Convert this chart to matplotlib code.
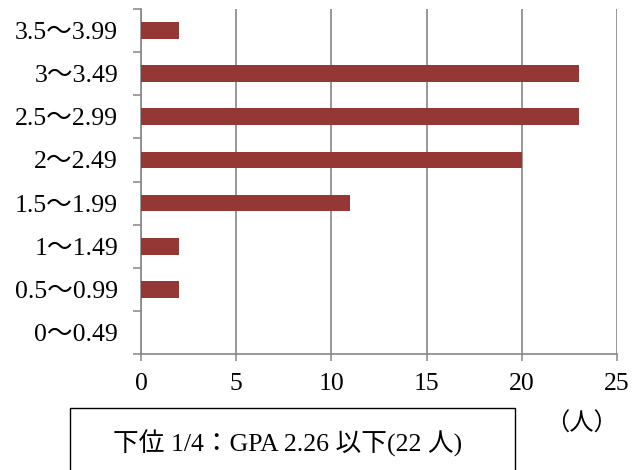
import numpy as np
import matplotlib
matplotlib.use("Agg")
import matplotlib.pyplot as plt
from matplotlib.patches import Rectangle

plt.rcParams['font.family'] = ['Liberation Serif', 'Noto Sans CJK JP']

# GPA帯ごとの人数（下から上）
categories = ['0～0.49', '0.5～0.99', '1～1.49', '1.5～1.99',
              '2～2.49', '2.5～2.99', '3～3.49', '3.5～3.99']
counts = [0, 2, 2, 11, 20, 23, 23, 2]
xticks = [0, 5, 10, 15, 20, 25]

bar_color = '#953735'
grid_color = '#868686'
fs = 18.5

fig = plt.figure(figsize=(6.32, 4.70), dpi=100)
ax = fig.add_axes([141/632, 1 - 354/470, (617-141)/632, (354-9)/470])

y = np.arange(len(categories))
ax.barh(y, counts, height=0.39, color=bar_color, zorder=3)

ax.set_xlim(0, 25)
ax.set_ylim(-0.5, len(categories) - 0.5)
ax.set_xticks(xticks)
ax.set_xticklabels([str(v) for v in xticks])
ax.set_yticks(y)
ax.set_yticklabels(categories)
ax.set_yticks(np.arange(-0.5, len(categories)), minor=True)

ax.grid(axis='x', color=grid_color, linewidth=1.2, zorder=0)
ax.tick_params(axis='y', which='major', length=0, pad=16.5, labelsize=fs)
ax.tick_params(axis='y', which='minor', length=6, width=1.1, color=grid_color,
               direction='out')
ax.tick_params(axis='x', which='major', length=5, width=1.1, color=grid_color,
               direction='out', pad=9, labelsize=fs)

for s in ['top', 'right']:
    ax.spines[s].set_visible(False)
for s in ['left', 'bottom']:
    ax.spines[s].set_color(grid_color)
    ax.spines[s].set_linewidth(1.2)

# 単位
fig.text(581/632, 1 - 424/470, '（人）', ha='center', va='center', fontsize=17.5)

# 注記ボックス
box = Rectangle((70/632, -0.05), (515-70)/632, 0.05 + 1 - 408/470,
                transform=fig.transFigure, fill=False, edgecolor='black',
                linewidth=1.0)
fig.patches.append(box)
fig.text(288/632, 1 - 443/470, '下位 1/4：GPA 2.26 以下(22 人)',
         ha='center', va='center', fontsize=fs)

fig.savefig('out.png', dpi=100)
